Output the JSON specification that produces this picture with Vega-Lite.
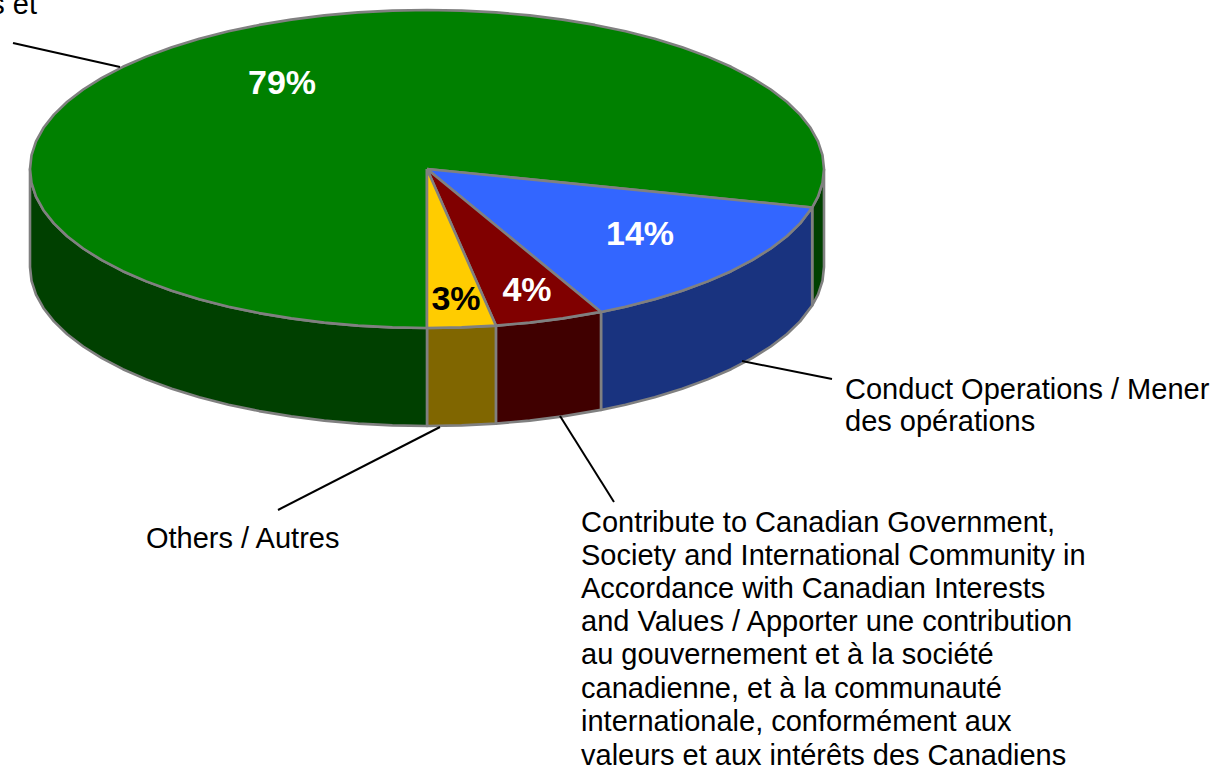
{"$schema":"https://vega.github.io/schema/vega-lite/v6.json","width":1218,"height":768,"autosize":"none","padding":0,"background":"white","config":{"view":{"stroke":null}},
"layer":[
{"data":{"values":[
{"f":"greenside1","n":1,"x":397,"y":0},{"f":"greenside1","n":2,"x":395.5,"y":13.9},{"f":"greenside1","n":3,"x":391,"y":27.6},{"f":"greenside1","n":4,"x":385.2,"y":38.5},{"f":"greenside1","n":5,"x":385.2,"y":136.5},{"f":"greenside1","n":6,"x":391,"y":125.6},{"f":"greenside1","n":7,"x":395.5,"y":111.9},{"f":"greenside1","n":8,"x":397,"y":98},{"f":"greenside1","n":9,"x":397,"y":0},
{"f":"blueside","n":1,"x":385.2,"y":38.5},{"f":"blueside","n":2,"x":373.1,"y":54.4},{"f":"blueside","n":3,"x":359.8,"y":67.2},{"f":"blueside","n":4,"x":343.8,"y":79.5},{"f":"blueside","n":5,"x":325.2,"y":91.2},{"f":"blueside","n":6,"x":304.1,"y":102.2},{"f":"blueside","n":7,"x":280.7,"y":112.4},{"f":"blueside","n":8,"x":255.2,"y":121.8},{"f":"blueside","n":9,"x":227.7,"y":130.3},{"f":"blueside","n":10,"x":198.5,"y":137.7},{"f":"blueside","n":11,"x":174,"y":142.9},{"f":"blueside","n":12,"x":174,"y":240.9},{"f":"blueside","n":13,"x":198.5,"y":235.7},{"f":"blueside","n":14,"x":227.7,"y":228.3},{"f":"blueside","n":15,"x":255.2,"y":219.8},{"f":"blueside","n":16,"x":280.7,"y":210.4},{"f":"blueside","n":17,"x":304.1,"y":200.2},{"f":"blueside","n":18,"x":325.2,"y":189.2},{"f":"blueside","n":19,"x":343.8,"y":177.5},{"f":"blueside","n":20,"x":359.8,"y":165.2},{"f":"blueside","n":21,"x":373.1,"y":152.4},{"f":"blueside","n":22,"x":385.2,"y":136.5},{"f":"blueside","n":23,"x":385.2,"y":38.5},
{"f":"redside","n":1,"x":174,"y":142.9},{"f":"redside","n":2,"x":135.8,"y":149.4},{"f":"redside","n":3,"x":102.7,"y":153.6},{"f":"redside","n":4,"x":68.9,"y":156.6},{"f":"redside","n":5,"x":68.9,"y":254.6},{"f":"redside","n":6,"x":102.7,"y":251.6},{"f":"redside","n":7,"x":135.8,"y":247.4},{"f":"redside","n":8,"x":174,"y":240.9},{"f":"redside","n":9,"x":174,"y":142.9},
{"f":"yellowside","n":1,"x":68.9,"y":156.6},{"f":"yellowside","n":2,"x":34.6,"y":158.4},{"f":"yellowside","n":3,"x":0,"y":159},{"f":"yellowside","n":4,"x":0,"y":257},{"f":"yellowside","n":5,"x":34.6,"y":256.4},{"f":"yellowside","n":6,"x":68.9,"y":254.6},{"f":"yellowside","n":7,"x":68.9,"y":156.6},
{"f":"greenside2","n":1,"x":0,"y":159},{"f":"greenside2","n":2,"x":-34.6,"y":158.4},{"f":"greenside2","n":3,"x":-68.9,"y":156.6},{"f":"greenside2","n":4,"x":-102.7,"y":153.6},{"f":"greenside2","n":5,"x":-135.8,"y":149.4},{"f":"greenside2","n":6,"x":-167.8,"y":144.1},{"f":"greenside2","n":7,"x":-198.5,"y":137.7},{"f":"greenside2","n":8,"x":-227.7,"y":130.3},{"f":"greenside2","n":9,"x":-255.2,"y":121.8},{"f":"greenside2","n":10,"x":-280.7,"y":112.4},{"f":"greenside2","n":11,"x":-304.1,"y":102.2},{"f":"greenside2","n":12,"x":-325.2,"y":91.2},{"f":"greenside2","n":13,"x":-343.8,"y":79.5},{"f":"greenside2","n":14,"x":-359.8,"y":67.2},{"f":"greenside2","n":15,"x":-373.1,"y":54.4},{"f":"greenside2","n":16,"x":-383.5,"y":41.2},{"f":"greenside2","n":17,"x":-391,"y":27.6},{"f":"greenside2","n":18,"x":-395.5,"y":13.9},{"f":"greenside2","n":19,"x":-397,"y":0},{"f":"greenside2","n":20,"x":-397,"y":98},{"f":"greenside2","n":21,"x":-395.5,"y":111.9},{"f":"greenside2","n":22,"x":-391,"y":125.6},{"f":"greenside2","n":23,"x":-383.5,"y":139.2},{"f":"greenside2","n":24,"x":-373.1,"y":152.4},{"f":"greenside2","n":25,"x":-359.8,"y":165.2},{"f":"greenside2","n":26,"x":-343.8,"y":177.5},{"f":"greenside2","n":27,"x":-325.2,"y":189.2},{"f":"greenside2","n":28,"x":-304.1,"y":200.2},{"f":"greenside2","n":29,"x":-280.7,"y":210.4},{"f":"greenside2","n":30,"x":-255.2,"y":219.8},{"f":"greenside2","n":31,"x":-227.7,"y":228.3},{"f":"greenside2","n":32,"x":-198.5,"y":235.7},{"f":"greenside2","n":33,"x":-167.8,"y":242.1},{"f":"greenside2","n":34,"x":-135.8,"y":247.4},{"f":"greenside2","n":35,"x":-102.7,"y":251.6},{"f":"greenside2","n":36,"x":-68.9,"y":254.6},{"f":"greenside2","n":37,"x":-34.6,"y":256.4},{"f":"greenside2","n":38,"x":0,"y":257},{"f":"greenside2","n":39,"x":0,"y":159},
{"f":"green","n":1,"x":0,"y":0},{"f":"green","n":2,"x":0,"y":159},{"f":"green","n":3,"x":-34.6,"y":158.4},{"f":"green","n":4,"x":-68.9,"y":156.6},{"f":"green","n":5,"x":-102.7,"y":153.6},{"f":"green","n":6,"x":-135.8,"y":149.4},{"f":"green","n":7,"x":-167.8,"y":144.1},{"f":"green","n":8,"x":-198.5,"y":137.7},{"f":"green","n":9,"x":-227.7,"y":130.3},{"f":"green","n":10,"x":-255.2,"y":121.8},{"f":"green","n":11,"x":-280.7,"y":112.4},{"f":"green","n":12,"x":-304.1,"y":102.2},{"f":"green","n":13,"x":-325.2,"y":91.2},{"f":"green","n":14,"x":-343.8,"y":79.5},{"f":"green","n":15,"x":-359.8,"y":67.2},{"f":"green","n":16,"x":-373.1,"y":54.4},{"f":"green","n":17,"x":-383.5,"y":41.2},{"f":"green","n":18,"x":-391,"y":27.6},{"f":"green","n":19,"x":-395.5,"y":13.9},{"f":"green","n":20,"x":-397,"y":0},{"f":"green","n":21,"x":-395.5,"y":-13.9},{"f":"green","n":22,"x":-391,"y":-27.6},{"f":"green","n":23,"x":-383.5,"y":-41.2},{"f":"green","n":24,"x":-373.1,"y":-54.4},{"f":"green","n":25,"x":-359.8,"y":-67.2},{"f":"green","n":26,"x":-343.8,"y":-79.5},{"f":"green","n":27,"x":-325.2,"y":-91.2},{"f":"green","n":28,"x":-304.1,"y":-102.2},{"f":"green","n":29,"x":-280.7,"y":-112.4},{"f":"green","n":30,"x":-255.2,"y":-121.8},{"f":"green","n":31,"x":-227.7,"y":-130.3},{"f":"green","n":32,"x":-198.5,"y":-137.7},{"f":"green","n":33,"x":-167.8,"y":-144.1},{"f":"green","n":34,"x":-135.8,"y":-149.4},{"f":"green","n":35,"x":-102.7,"y":-153.6},{"f":"green","n":36,"x":-68.9,"y":-156.6},{"f":"green","n":37,"x":-34.6,"y":-158.4},{"f":"green","n":38,"x":0,"y":-159},{"f":"green","n":39,"x":34.6,"y":-158.4},{"f":"green","n":40,"x":68.9,"y":-156.6},{"f":"green","n":41,"x":102.7,"y":-153.6},{"f":"green","n":42,"x":135.8,"y":-149.4},{"f":"green","n":43,"x":167.8,"y":-144.1},{"f":"green","n":44,"x":198.5,"y":-137.7},{"f":"green","n":45,"x":227.7,"y":-130.3},{"f":"green","n":46,"x":255.2,"y":-121.8},{"f":"green","n":47,"x":280.7,"y":-112.4},{"f":"green","n":48,"x":304.1,"y":-102.2},{"f":"green","n":49,"x":325.2,"y":-91.2},{"f":"green","n":50,"x":343.8,"y":-79.5},{"f":"green","n":51,"x":359.8,"y":-67.2},{"f":"green","n":52,"x":373.1,"y":-54.4},{"f":"green","n":53,"x":383.5,"y":-41.2},{"f":"green","n":54,"x":391,"y":-27.6},{"f":"green","n":55,"x":395.5,"y":-13.9},{"f":"green","n":56,"x":397,"y":0},{"f":"green","n":57,"x":395.5,"y":13.9},{"f":"green","n":58,"x":391,"y":27.6},{"f":"green","n":59,"x":385.2,"y":38.5},{"f":"green","n":60,"x":0,"y":0},
{"f":"blue","n":1,"x":0,"y":0},{"f":"blue","n":2,"x":385.2,"y":38.5},{"f":"blue","n":3,"x":373.1,"y":54.4},{"f":"blue","n":4,"x":359.8,"y":67.2},{"f":"blue","n":5,"x":343.8,"y":79.5},{"f":"blue","n":6,"x":325.2,"y":91.2},{"f":"blue","n":7,"x":304.1,"y":102.2},{"f":"blue","n":8,"x":280.7,"y":112.4},{"f":"blue","n":9,"x":255.2,"y":121.8},{"f":"blue","n":10,"x":227.7,"y":130.3},{"f":"blue","n":11,"x":198.5,"y":137.7},{"f":"blue","n":12,"x":174,"y":142.9},{"f":"blue","n":13,"x":0,"y":0},
{"f":"red","n":1,"x":0,"y":0},{"f":"red","n":2,"x":174,"y":142.9},{"f":"red","n":3,"x":135.8,"y":149.4},{"f":"red","n":4,"x":102.7,"y":153.6},{"f":"red","n":5,"x":68.9,"y":156.6},{"f":"red","n":6,"x":0,"y":0},
{"f":"yellow","n":1,"x":0,"y":0},{"f":"yellow","n":2,"x":68.9,"y":156.6},{"f":"yellow","n":3,"x":34.6,"y":158.4},{"f":"yellow","n":4,"x":0,"y":159},{"f":"yellow","n":5,"x":0,"y":0}
]},
"mark":{"type":"line","stroke":"#808080","strokeWidth":2.6,"strokeJoin":"round","clip":false},
"encoding":{
"x":{"field":"x","type":"quantitative","axis":null,"scale":{"domain":[-427,791],"nice":false,"zero":false}},
"y":{"field":"y","type":"quantitative","axis":null,"scale":{"domain":[-169,599],"reverse":true,"nice":false,"zero":false}},
"detail":{"field":"f"},
"order":{"field":"n","type":"quantitative"},
"fill":{"field":"f","type":"nominal","legend":null,"scale":{"domain":["greenside1","blueside","redside","yellowside","greenside2","green","blue","red","yellow"],"range":["#004000","#19337F","#400000","#806600","#004000","#008000","#3366FF","#800000","#FFCC00"]}}
}},
{"data":{"values":[
{"l":"a","n":1,"x":-414,"y":-126},{"l":"a","n":2,"x":-307,"y":-102},
{"l":"b","n":1,"x":315,"y":192},{"l":"b","n":2,"x":405,"y":210},
{"l":"c","n":1,"x":133,"y":247},{"l":"c","n":2,"x":187,"y":333},
{"l":"d","n":1,"x":13,"y":258},{"l":"d","n":2,"x":-149,"y":341}
]},
"mark":{"type":"line","color":"#000000","strokeWidth":2},
"encoding":{"x":{"field":"x","type":"quantitative"},"y":{"field":"y","type":"quantitative"},"detail":{"field":"l"},"order":{"field":"n","type":"quantitative"}}},
{"data":{"values":[
{"t":"79%","x":-145,"y":-85,"c":"w"},{"t":"14%","x":213,"y":66,"c":"w"},{"t":"4%","x":100,"y":122,"c":"w"},{"t":"3%","x":29,"y":131,"c":"k"}
]},
"mark":{"type":"text","font":"Liberation Sans","fontWeight":"bold","fontSize":34,"align":"center","baseline":"middle"},
"encoding":{"x":{"field":"x","type":"quantitative"},"y":{"field":"y","type":"quantitative"},"text":{"field":"t"},
"color":{"field":"c","type":"nominal","legend":null,"scale":{"domain":["w","k"],"range":["#FFFFFF","#000000"]}}}},
{"data":{"values":[
{"t":"Conduct Operations / Mener","x":418,"y":220.5},{"t":"des opérations","x":418,"y":252.5},
{"t":"Others / Autres","x":-281,"y":369.5},
{"t":"Contribute to Canadian Government,","x":154,"y":353.5},{"t":"Society and International Community in","x":154,"y":386.5},{"t":"Accordance with Canadian Interests","x":154,"y":419.5},{"t":"and Values / Apporter une contribution","x":154,"y":452.5},{"t":"au gouvernement et à la société","x":154,"y":485.5},{"t":"canadienne, et à la communauté","x":154,"y":519.5},{"t":"internationale, conformément aux","x":154,"y":552.5},{"t":"valeurs et aux intérêts des Canadiens","x":154,"y":586.5}
]},
"mark":{"type":"text","font":"Liberation Sans","fontSize":29,"align":"left","baseline":"middle","color":"#000000"},
"encoding":{"x":{"field":"x","type":"quantitative"},"y":{"field":"y","type":"quantitative"},"text":{"field":"t"}}},
{"data":{"values":[{"t":"s et","x":-390,"y":-164}]},
"mark":{"type":"text","font":"Liberation Sans","fontSize":29,"align":"right","baseline":"middle","color":"#000000"},
"encoding":{"x":{"field":"x","type":"quantitative"},"y":{"field":"y","type":"quantitative"},"text":{"field":"t"}}}
]}
